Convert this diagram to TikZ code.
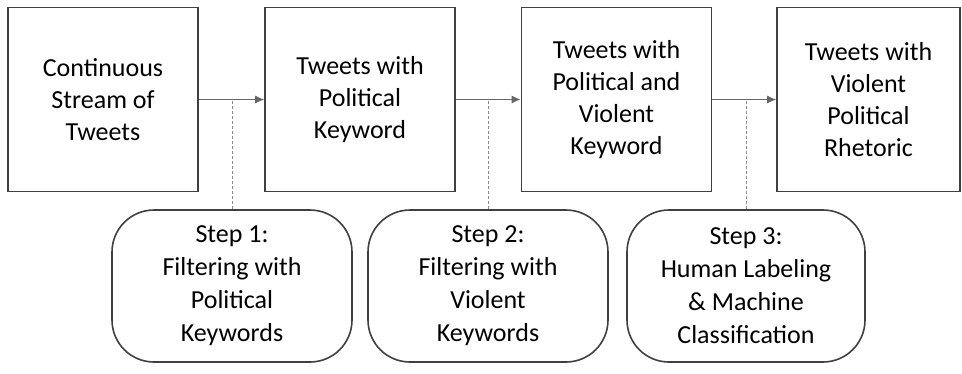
\documentclass[tikz,border=0pt]{standalone}
\usepackage{fontspec}
\setmainfont{Carlito}
\usetikzlibrary{arrows.meta}
\tikzset{stage/.style={draw=black!75, line width=1.6pt, minimum width=190pt, minimum height=184pt, inner sep=0pt, align=center, font=\fontsize{26}{32}\selectfont}}
\tikzset{stepbox/.style={draw=black!75, line width=1.6pt, rounded corners=42pt, minimum width=240pt, minimum height=152pt, inner sep=0pt, align=center, font=\fontsize{26}{33}\selectfont}}
\tikzset{flow/.style={draw=black!60, line width=1.2pt, -{Latex[length=9pt,width=8pt]}}}
\tikzset{link/.style={draw=black!45, line width=1pt, dash pattern=on 3pt off 2pt}}

\begin{document}
\begin{tikzpicture}[x=1pt,y=1pt]
\useasboundingbox (0,0) rectangle (962,-373);

\node[stage] (stream) at (103,-99.5) {Continuous\\Stream of\\Tweets};
\node[stage] (political) at (360,-99.5) {Tweets with\\Political\\Keyword};
\node[stage] (violent) at (616.5,-99.5) {Tweets with\\Political and\\Violent\\Keyword};
\node[stage, minimum width=183pt] (rhetoric) at (868.5,-99.5) {Tweets with\\Violent\\Political\\Rhetoric};

\node[stepbox] (step1) at (232,-286) {Step 1:\\Filtering with\\Political\\Keywords};
\node[stepbox] (step2) at (488,-286) {Step 2:\\Filtering with\\Violent\\Keywords};
\node[stepbox, minimum width=238pt] (step3) at (746,-286) {Step 3:\\Human Labeling\\\& Machine\\Classification};

\draw[flow] (stream.east) -- (political.west);
\draw[flow] (political.east) -- (violent.west);
\draw[flow] (violent.east) -- (rhetoric.west);

\draw[link] (step1.north) -- (step1.north |- stream.east);
\draw[link] (step2.north) -- (step2.north |- political.east);
\draw[link] (step3.north) -- (step3.north |- violent.east);
\end{tikzpicture}
\end{document}
